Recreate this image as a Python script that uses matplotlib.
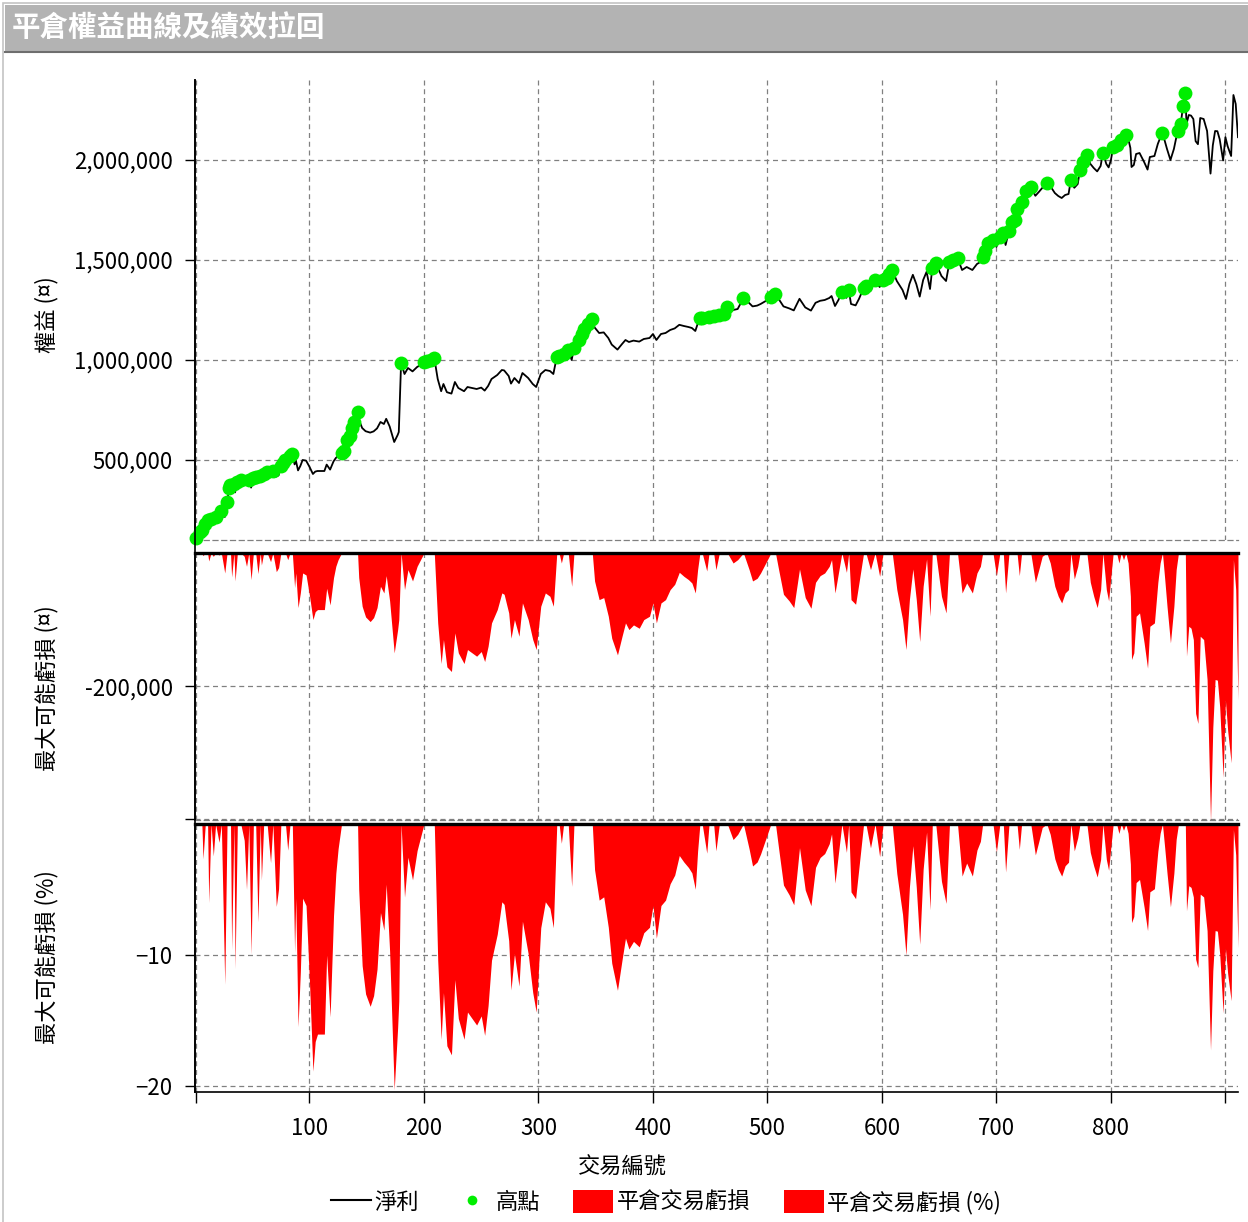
import numpy as np
import matplotlib
matplotlib.use('Agg')
import matplotlib.pyplot as plt
from matplotlib.lines import Line2D
from matplotlib.patches import Patch, Rectangle
from matplotlib.ticker import FuncFormatter

plt.rcParams['font.family'] = ['Noto Sans CJK TC', 'DejaVu Sans']

# closed-trade equity (trade number, equity in thousands)
trade_no = [
    1, 4, 6, 7, 9, 11, 12, 14, 16, 18, 21, 23, 26, 28, 30, 31, 32, 34, 35, 37,
    40, 43, 45, 47, 49, 51, 53, 55, 57, 58, 60, 63, 66, 68, 71, 73, 75, 77, 79, 81,
    83, 85, 87, 88, 90, 92, 94, 97, 100, 103, 105, 107, 110, 113, 115, 118, 121, 123, 125, 128,
    130, 133, 135, 137, 139, 142, 143, 146, 149, 153, 156, 159, 162, 165, 167, 170, 174, 177, 178, 180,
    183, 186, 190, 194, 197, 200, 203, 206, 209, 212, 215, 217, 220, 224, 227, 230, 235, 238, 242, 246,
    250, 253, 256, 259, 264, 268, 270, 274, 276, 279, 283, 286, 291, 295, 298, 302, 306, 310, 313, 316,
    318, 320, 322, 326, 329, 331, 335, 338, 340, 343, 347, 349, 353, 357, 361, 364, 369, 373, 376, 379,
    383, 388, 392, 397, 400, 403, 407, 411, 415, 419, 423, 427, 431, 434, 437, 439, 441, 443, 447, 449,
    453, 455, 458, 462, 465, 470, 474, 479, 484, 487, 491, 494, 497, 500, 503, 507, 510, 514, 519, 523,
    528, 533, 538, 542, 546, 550, 554, 556, 559, 562, 565, 569, 571, 573, 577, 580, 584, 586, 590, 594,
    598, 601, 604, 606, 609, 613, 618, 621, 624, 627, 630, 633, 636, 639, 642, 644, 647, 652, 656, 659,
    662, 666, 670, 674, 679, 683, 686, 688, 690, 693, 697, 700, 703, 706, 708, 711, 714, 716, 718, 720,
    722, 726, 730, 734, 737, 740, 744, 747, 751, 754, 757, 760, 763, 765, 768, 771, 773, 776, 779, 782,
    785, 788, 791, 793, 796, 798, 800, 802, 805, 807, 809, 811, 813, 815, 817, 818, 820, 822, 825, 829,
    832, 834, 838, 841, 843, 845, 847, 849, 852, 855, 857, 859, 861, 863, 865, 866, 868, 870, 872, 874,
    876, 878, 881, 884, 887, 889, 891, 893, 895, 898, 900, 902, 905, 907, 909, 911,
]
equity_k = [
    110, 140, 150, 146, 180, 200, 188, 205, 200, 215, 212, 245, 215, 290, 360, 375, 339, 380, 338, 390,
    400, 395, 380, 402, 362, 410, 415, 384, 420, 402, 430, 440, 427, 445, 417, 423, 470, 485, 500, 490,
    520, 530, 478, 500, 448, 470, 500, 497, 466, 430, 442, 445, 445, 445, 477, 452, 493, 510, 520, 535,
    545, 600, 620, 660, 690, 740, 703, 660, 644, 637, 643, 658, 690, 680, 706, 668, 590, 625, 640, 985,
    930, 960, 943, 965, 975, 990, 995, 1000, 1010, 905, 844, 880, 839, 832, 890, 860, 844, 865, 860, 855,
    862, 847, 870, 905, 925, 950, 948, 920, 882, 910, 885, 935, 910, 880, 865, 930, 950, 945, 930, 1015,
    1020, 1005, 1030, 1050, 1000, 1060, 1100, 1130, 1155, 1180, 1205, 1163, 1135, 1138, 1110, 1077, 1052, 1080, 1100, 1090,
    1097, 1092, 1105, 1110, 1130, 1100, 1130, 1135, 1150, 1158, 1176, 1170, 1165, 1160, 1145, 1180, 1208, 1212, 1185, 1215,
    1220, 1195, 1225, 1230, 1265, 1250, 1255, 1310, 1285, 1268, 1272, 1280, 1290, 1300, 1315, 1330, 1303, 1268, 1258, 1248,
    1306, 1263, 1247, 1286, 1296, 1300, 1310, 1320, 1270, 1300, 1340, 1311, 1350, 1280, 1273, 1306, 1360, 1370, 1345, 1400,
    1365, 1400, 1410, 1430, 1450, 1395, 1350, 1305, 1380, 1426, 1380, 1317, 1400, 1441, 1355, 1460, 1485, 1420, 1395, 1490,
    1500, 1510, 1450, 1465, 1450, 1480, 1490, 1515, 1545, 1585, 1600, 1566, 1615, 1635, 1575, 1645, 1690, 1700, 1755, 1721,
    1790, 1845, 1865, 1821, 1840, 1860, 1885, 1870, 1835, 1820, 1810, 1825, 1830, 1900, 1861, 1880, 1950, 1990, 2025, 1981,
    1960, 1943, 1970, 2035, 1980, 1963, 2000, 2065, 2075, 2060, 2100, 2090, 2125, 2110, 2060, 1965, 1975, 2030, 2035, 1990,
    1952, 2015, 2020, 2081, 2110, 2135, 2096, 2055, 2000, 2055, 2110, 2145, 2180, 2270, 2335, 2180, 2225, 2222, 2205, 2094,
    2079, 2210, 2205, 2145, 1932, 2073, 2145, 2144, 2104, 1998, 2114, 2068, 2020, 2325, 2280, 2114,
]

x_ticks = [1, 100, 200, 300, 400, 500, 600, 700, 800, 900]
x_labels = ['', '100', '200', '300', '400', '500', '600', '700', '800', '']
eq_ticks = [500000, 1000000, 1500000, 2000000]
dd_ticks = [-400000, -200000]
dd_labels = ['', '-200,000']
pct_ticks = [-20, -10]

trades = np.array(trade_no)
equity = np.array(equity_k, dtype=float) * 1000
peak = np.maximum.accumulate(equity)
is_high = equity >= peak
drawdown = equity - peak
drawdown_pct = drawdown / peak * 100

W, H = 1248, 1222
fig = plt.figure(figsize=(W / 100, H / 100), dpi=100)


def fx(px):
    return px / W


def fy(py):
    return 1 - py / H


# frame and title bar
fig.add_artist(Rectangle((fx(3), -0.01), 1, fy(3) + 0.01, transform=fig.transFigure,
                         fill=False, edgecolor='#c4c4c4', lw=1.2, zorder=-1))
fig.add_artist(Rectangle((fx(5), fy(52)), 1, fy(5) - fy(52), transform=fig.transFigure,
                         facecolor='#b3b3b3', edgecolor='none', zorder=-1))
fig.add_artist(Line2D([fx(5), 1], [fy(52), fy(52)], transform=fig.transFigure,
                      color='#6e6e6e', lw=1.5))
fig.text(fx(12), fy(28), '平倉權益曲線及績效拉回', color='white', fontsize=20.5,
         fontweight='bold', ha='left', va='center')

left = fx(195)
width = fx(1238) - fx(195)
ax1 = fig.add_axes([left, fy(540), width, (540 - 80) / H])
ax2 = fig.add_axes([left, fy(820), width, (820 - 553) / H])
ax3 = fig.add_axes([left, fy(1092), width, (1092 - 824) / H])

# one continuous left axis line across the three panels
fig.add_artist(Line2D([left, left], [fy(80), fy(1092)], transform=fig.transFigure,
                      color='black', lw=1.2))

grid_kw = dict(color='#808080', linestyle=(0, (4, 3)), linewidth=0.9)

for ax in (ax1, ax2, ax3):
    ax.set_xlim(0, 911)
    ax.set_xticks(x_ticks)
    ax.grid(True, **grid_kw)
    ax.set_axisbelow(True)
    ax.spines['right'].set_visible(False)
    ax.spines['left'].set_color('black')
    ax.spines['left'].set_linewidth(1.2)
    ax.tick_params(axis='y', direction='out', length=7, width=1, pad=9, labelsize=16)
    ax.patch.set_alpha(0)

for ax in (ax1, ax2):
    ax.tick_params(axis='x', bottom=False, labelbottom=False)
    ax.spines['bottom'].set_color('#808080')
    ax.spines['bottom'].set_linestyle((0, (4, 3)))
    ax.spines['bottom'].set_linewidth(0.9)

# equity panel
ax1.spines['top'].set_visible(False)
ax1.plot(trades, equity, color='black', lw=1.3, zorder=2)
ax1.plot(trades[is_high], equity[is_high], 'o', color='#00ee00', ms=10,
         mec='none', zorder=3, clip_on=False)
ax1.set_ylim(100000, 2400000)
ax1.set_yticks(eq_ticks)
ax1.yaxis.set_major_formatter(FuncFormatter(lambda v, p: f'{v:,.0f}'))

# drawdown panel (money)
ax2.fill_between(trades, drawdown, 0, color='#ff0000', lw=0, zorder=2)
ax2.set_ylim(-401000, 0)
ax2.set_yticks(dd_ticks)
ax2.set_yticklabels(dd_labels)
ax2.spines['top'].set_linewidth(2.4)
ax2.spines['top'].set_zorder(4)

# drawdown panel (percent)
ax3.fill_between(trades, drawdown_pct, 0, color='#ff0000', lw=0, zorder=2)
ax3.set_ylim(-20.46, 0)
ax3.set_yticks(pct_ticks)
ax3.spines['top'].set_linewidth(2.4)
ax3.spines['top'].set_zorder(4)
ax3.spines['bottom'].set_linewidth(1.2)
ax3.set_xticklabels(x_labels)
ax3.tick_params(axis='x', direction='out', length=8, width=1, pad=10, labelsize=16)

# axis titles
fig.text(fx(47), fy(315), '權益 (¤)', rotation=90, ha='center', va='center', fontsize=16)
fig.text(fx(47), fy(688), '最大可能虧損 (¤)', rotation=90, ha='center', va='center', fontsize=16)
fig.text(fx(47), fy(957), '最大可能虧損 (%)', rotation=90, ha='center', va='center', fontsize=16)
fig.text(fx(622), fy(1167), '交易編號', ha='center', va='center', fontsize=16)

handles = [
    Line2D([], [], color='black', lw=1.5),
    Line2D([], [], marker='o', color='none', markerfacecolor='#00ee00', markeredgecolor='none', markersize=7),
    Patch(facecolor='#ff0000', edgecolor='none'),
    Patch(facecolor='#ff0000', edgecolor='none'),
]
labels = ['淨利', '高點', '平倉交易虧損', '平倉交易虧損 (%)']
fig.legend(handles, labels, loc='center', bbox_to_anchor=(fx(666), fy(1202)), ncol=4,
           frameon=False, fontsize=16, handlelength=1.8, handleheight=1.2,
           handletextpad=0.15, columnspacing=1.5, borderpad=0)

fig.savefig('out.png', dpi=100)
